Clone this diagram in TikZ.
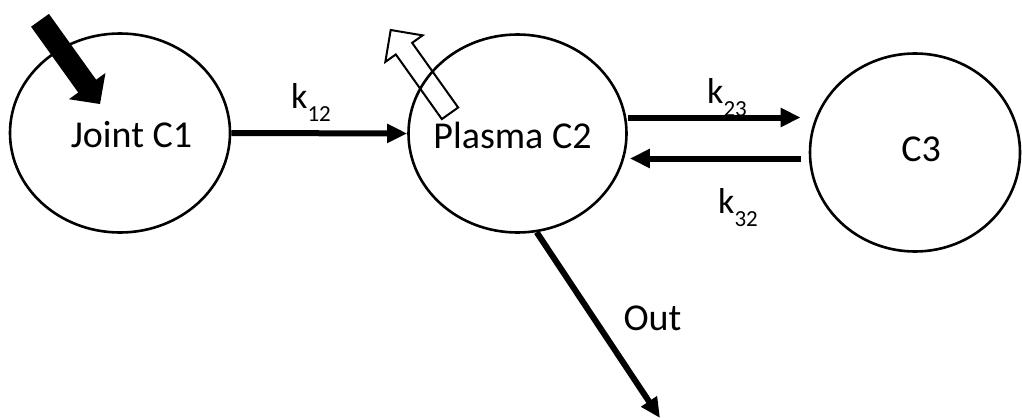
\documentclass[tikz,border=0pt]{standalone}
\usepackage{fontspec}
\setmainfont{Carlito}
\usetikzlibrary{arrows.meta,shapes.geometric}
\newcommand{\ksub}[1]{k\raisebox{-13pt}{\fontsize{23}{23}\selectfont #1}}
\begin{document}
\begin{tikzpicture}[x=1pt,y=-1pt,
  comp/.style={draw, line width=2.6pt, ellipse, inner sep=0pt},
  lbl/.style={inner sep=0pt, font=\fontsize{38}{40}\selectfont},
  klbl/.style={inner sep=0pt, anchor=base west, font=\fontsize{36}{38}\selectfont},
  flow/.style={line width=6pt, -{Triangle[length=20pt,width=18pt]}},
  bigarrow/.style={line width=2pt, line join=miter}
]
\useasboundingbox (0,0) rectangle (1022,420);

% compartments
\node[comp, minimum width=220pt, minimum height=199pt] (C1) at (120,133) {};
\node[comp, minimum width=218pt, minimum height=198pt] (C2) at (517.5,133.5) {};
\node[comp, minimum width=210pt, minimum height=198pt] (C3) at (915,152.5) {};

% compartment labels
\node[lbl, anchor=base] (t1) at (131.5,147) {Joint C1};
\node[lbl, anchor=base] (t2) at (512.5,148) {Plasma C2};
\node[lbl, anchor=base] (t3) at (921,161) {C3};

% input (filled) arrow into C1
\fill[black] (31.06,26.71) -- (78.24,92.53) -- (68.9,99.23) -- (100,104)
  -- (105.46,73.01) -- (96.12,79.71) -- (48.94,13.89) -- cycle;

% open arrow leaving C2
\draw[bigarrow] (458.15,107.5) -- (412.13,42.85) -- (422.64,35.37) -- (390.7,30)
  -- (385.32,61.93) -- (395.83,54.45) -- (441.85,119.1) -- cycle;

% transfers
\draw[flow] (C1.east) -- (C2.west);
\draw[flow] ([yshift=16pt]C2.east) -- ([xshift=-8pt,yshift=35pt]C3.west);
\draw[flow] ([xshift=-8pt,yshift=-6pt]C3.west) -- ([xshift=2pt,yshift=-25pt]C2.east);
\coordinate (sink) at (660,418);
\draw[flow] (C2.-79) -- (sink);

% rate labels
\node[klbl] (k12) at (291,108) {\ksub{12}};
\node[klbl] (k23) at (707,103) {\ksub{23}};
\node[klbl] (k32) at (718,213) {\ksub{32}};
\node[lbl, anchor=base] (out) at (652.5,330) {Out};
\end{tikzpicture}
\end{document}
